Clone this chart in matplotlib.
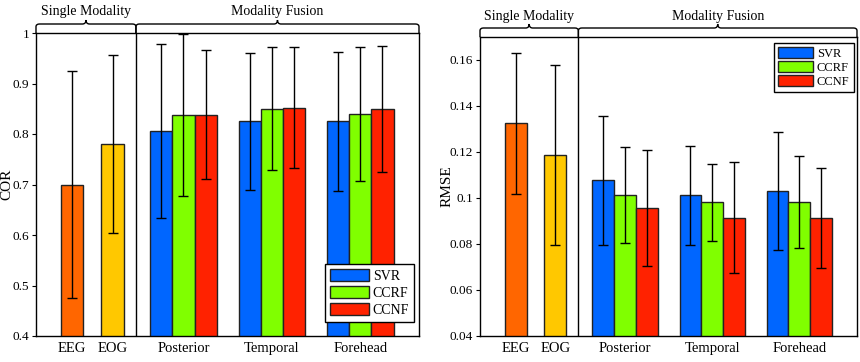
import matplotlib
matplotlib.use("Agg")
import matplotlib.pyplot as plt
from matplotlib.path import Path
from matplotlib.patches import PathPatch
from matplotlib.transforms import blended_transform_factory

plt.rcParams['font.family'] = ['Liberation Serif', 'DejaVu Serif']

# data
single_names = ['EEG', 'EOG']
fusion_names = ['Posterior', 'Temporal', 'Forehead']
methods = ['SVR', 'CCRF', 'CCNF']

cor_single = [0.700, 0.780]
cor_single_err = [0.225, 0.176]
cor_fusion = {
    'SVR':  [0.806, 0.825, 0.825],
    'CCRF': [0.838, 0.850, 0.840],
    'CCNF': [0.838, 0.852, 0.849],
}
cor_fusion_err = {
    'SVR':  [0.173, 0.135, 0.138],
    'CCRF': [0.161, 0.122, 0.133],
    'CCNF': [0.128, 0.120, 0.125],
}

rmse_single = [0.1324, 0.1187]
rmse_single_err = [0.0305, 0.0393]
rmse_fusion = {
    'SVR':  [0.1077, 0.1011, 0.1030],
    'CCRF': [0.1013, 0.0981, 0.0982],
    'CCNF': [0.0957, 0.0915, 0.0914],
}
rmse_fusion_err = {
    'SVR':  [0.0280, 0.0216, 0.0258],
    'CCRF': [0.0209, 0.0169, 0.0200],
    'CCNF': [0.0253, 0.0240, 0.0218],
}

cor_ticks = [0.4, 0.5, 0.6, 0.7, 0.8, 0.9, 1.0]
cor_ticklabels = ['0.4', '0.5', '0.6', '0.7', '0.8', '0.9', '1']
rmse_ticks = [0.04, 0.06, 0.08, 0.10, 0.12, 0.14, 0.16]
rmse_ticklabels = ['0.04', '0.06', '0.08', '0.1', '0.12', '0.14', '0.16']

single_colors = ['#FF6600', '#FFC800']
method_colors = {'SVR': '#0066FF', 'CCRF': '#80FF00', 'CCNF': '#FF2200'}

# layout (x in group units)
single_x = [0.41, 0.865]
fusion_x = [1.667, 2.667, 3.667]
divider = 1.13
width = 0.25
xmax = 4.33


def brace(ax, fig, x0, x1, h_px=9, bump_px=4, r=0.04):
    tr = blended_transform_factory(ax.transData, ax.transAxes)
    ax_h = ax.get_window_extent().height
    h = h_px / ax_h
    b = bump_px / ax_h
    xm = (x0 + x1) / 2
    verts = [(x0, 1.0), (x0, 1 + h * 0.7),
             (x0, 1 + h), (x0 + r, 1 + h),
             (xm - r, 1 + h),
             (xm, 1 + h), (xm, 1 + h + b),
             (xm, 1 + h), (xm + r, 1 + h),
             (x1 - r, 1 + h),
             (x1, 1 + h), (x1, 1 + h * 0.7),
             (x1, 1.0)]
    codes = [Path.MOVETO, Path.LINETO,
             Path.CURVE3, Path.CURVE3,
             Path.LINETO,
             Path.CURVE3, Path.CURVE3,
             Path.CURVE3, Path.CURVE3,
             Path.LINETO,
             Path.CURVE3, Path.CURVE3,
             Path.LINETO]
    p = PathPatch(Path(verts, codes), transform=tr, fill=False,
                  edgecolor='black', lw=1.0, clip_on=False)
    ax.add_patch(p)
    return 1 + h + b


def draw(ax, fig, single, single_err, fusion, fusion_err, ylim, ticks, ticklabels,
         ylabel, label_x, legend_loc, legend_anchor, legend_size, legend_space):
    ekw = dict(ecolor='black', elinewidth=1.0, capsize=3.5, capthick=1.0)
    for i in range(len(single)):
        ax.bar(single_x[i], single[i], width, color=single_colors[i], edgecolor='#222222',
               linewidth=1.0, yerr=single_err[i], error_kw=ekw, zorder=2)
    for k, m in enumerate(methods):
        xs = [x + (k - 1) * width for x in fusion_x]
        ax.bar(xs, fusion[m], width, color=method_colors[m], edgecolor='#222222',
               linewidth=1.0, yerr=fusion_err[m], error_kw=ekw, label=m, zorder=2)
    ax.axvline(divider, color='black', lw=1.0)
    ax.set_xlim(0, xmax)
    ax.set_ylim(*ylim)
    ax.set_yticks(ticks)
    ax.set_yticklabels(ticklabels)
    ax.set_xticks(single_x + fusion_x)
    ax.set_xticklabels(single_names + fusion_names, fontsize=10.5)
    ax.tick_params(axis='x', length=0, pad=4)
    ax.tick_params(axis='y', direction='out', length=3, labelsize=9.5, pad=2)
    ax.set_ylabel(ylabel, fontsize=11)
    ax.yaxis.set_label_coords(label_x, 0.5)
    for s in ax.spines.values():
        s.set_linewidth(1.0)
    leg = ax.legend(loc=legend_loc, bbox_to_anchor=legend_anchor, fontsize=legend_size,
                    fancybox=False, edgecolor='black', framealpha=1,
                    handlelength=2.8, handleheight=0.95, handletextpad=0.3,
                    labelspacing=legend_space, borderpad=0.35, borderaxespad=0)
    leg.get_frame().set_linewidth(1.0)
    top = brace(ax, fig, 0, divider)
    brace(ax, fig, divider, xmax)
    tr = blended_transform_factory(ax.transData, ax.transAxes)
    ax.text(divider / 2, top + 0.005, 'Single Modality', transform=tr,
            ha='center', va='bottom', fontsize=10)
    ax.text((divider + xmax) / 2, top + 0.005, 'Modality Fusion', transform=tr,
            ha='center', va='bottom', fontsize=10)


fig = plt.figure(figsize=(8.6, 3.62), dpi=100)
ax1 = fig.add_axes([36 / 860, 1 - 336 / 362, 383 / 860, 303 / 362])
ax2 = fig.add_axes([480 / 860, 1 - 336 / 362, 377 / 860, 299 / 362])

draw(ax1, fig, cor_single, cor_single_err, cor_fusion, cor_fusion_err,
     (0.4, 1.0), cor_ticks, cor_ticklabels, 'COR', -0.058,
     'lower right', (0.987, 0.046), 10, 0.25)
draw(ax2, fig, rmse_single, rmse_single_err, rmse_fusion, rmse_fusion_err,
     (0.04, 0.17), rmse_ticks, rmse_ticklabels, 'RMSE', -0.071,
     'upper right', (0.992, 0.981), 9, 0.12)

fig.savefig('out.png', dpi=100)
